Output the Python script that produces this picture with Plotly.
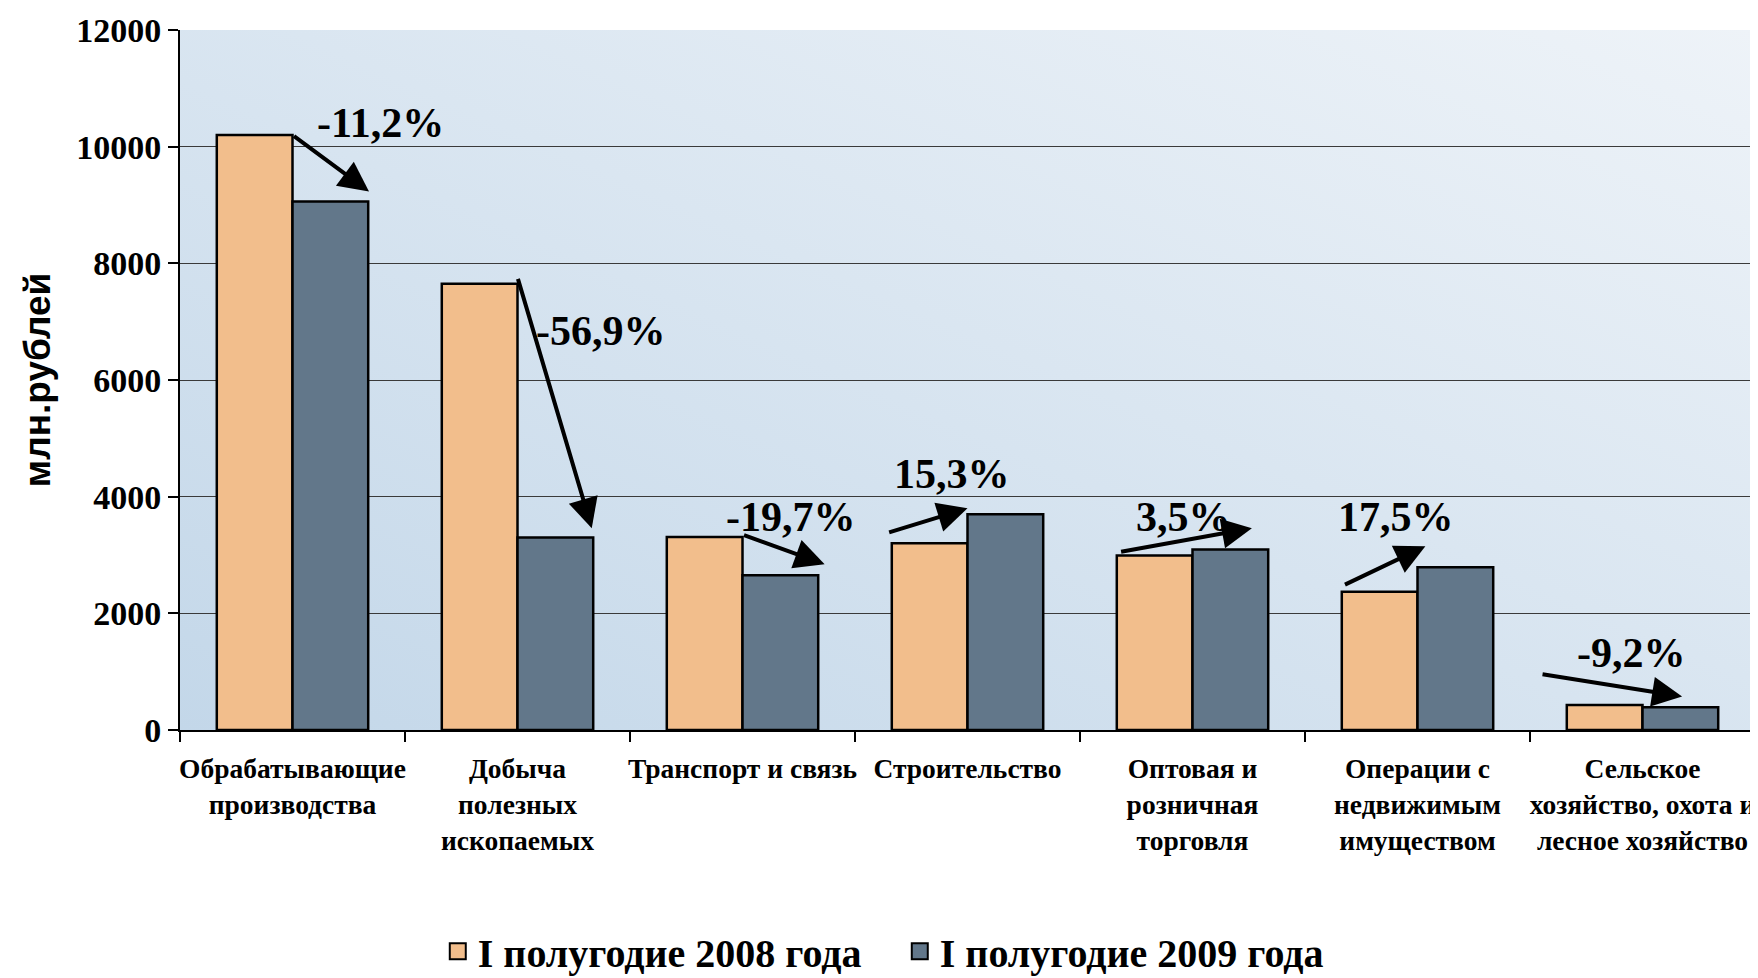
import base64
import plotly.graph_objects as go

categories = [
    "Обрабатывающие<br>производства",
    "Добыча<br>полезных<br>ископаемых",
    "Транспорт и связь",
    "Строительство",
    "Оптовая и<br>розничная<br>торговля",
    "Операции с<br>недвижимым<br>имуществом",
    "Сельское<br>хозяйство, охота и<br>лесное хозяйство",
]
values_2008 = [10200, 7650, 3310, 3200, 2990, 2370, 430]
values_2009 = [9060, 3300, 2655, 3700, 3095, 2790, 390]
change_labels = ["-11,2%", "-56,9%", "-19,7%", "15,3%", "3,5%", "17,5%", "-9,2%"]
series_names = ["I полугодие 2008 года", "I полугодие 2009 года"]
y_ticks = [0, 2000, 4000, 6000, 8000, 10000, 12000]
y_tick_text = ["0", "2000", "4000", "6000", "8000", "10000", "12000"]

# annotation geometry (category-index units on x, value units on y)
arrow_tail_x = [0.0, 1.0, 2.0, 2.645, 3.676, 4.671, 5.549]
arrow_tail_y = [10200, 7760, 3350, 3380, 3050, 2480, 960]
arrow_head_x = [0.34, 1.33, 2.365, 3.0, 4.264, 5.035, 6.176]
arrow_head_y = [9230, 3460, 2840, 3800, 3460, 3150, 576]
label_x = [0.393, 1.373, 2.215, 2.932, 3.96, 4.905, 5.952]
label_y = [10406, 6835, 3648, 4397, 3648, 3648, 1325]

serif = "Liberation Serif, Times New Roman, serif"
sans = "Liberation Sans, Arial, sans-serif"
color_2008 = "#F2BE8C"
color_2009 = "#62778A"

n = len(categories)
fig = go.Figure()
fig.add_trace(go.Bar(
    x=list(range(n)), y=values_2008, name=series_names[0], showlegend=False,
    marker=dict(color=color_2008, line=dict(color="#000000", width=2.5)),
))
fig.add_trace(go.Bar(
    x=list(range(n)), y=values_2009, name=series_names[1], showlegend=False,
    marker=dict(color=color_2009, line=dict(color="#000000", width=2.5)),
))
# legend entries with larger square symbols
for name, col in zip(series_names, [color_2008, color_2009]):
    fig.add_trace(go.Scatter(
        x=[None], y=[None], mode="markers", name=name,
        marker=dict(symbol="square", size=16, color=col, line=dict(color="#000000", width=2)),
    ))

annotations = []
for i in range(n):
    annotations.append(dict(
        x=arrow_head_x[i], y=arrow_head_y[i], ax=arrow_tail_x[i], ay=arrow_tail_y[i],
        xref="x", yref="y", axref="x", ayref="y", text="", showarrow=True,
        arrowhead=2, arrowsize=1.5, arrowwidth=4, arrowcolor="#000000", standoff=0,
    ))
    annotations.append(dict(
        x=label_x[i], y=label_y[i], xref="x", yref="y", text=change_labels[i],
        showarrow=False, font=dict(family=serif, size=42, color="#000000", weight="bold"),
        xanchor="center", yanchor="middle",
    ))

svg = ('<svg xmlns="http://www.w3.org/2000/svg" width="200" height="100" viewBox="0 0 200 100" '
       'preserveAspectRatio="none"><defs><linearGradient id="g" x1="0" y1="1" x2="1" y2="0">'
       '<stop offset="0" stop-color="#C3D7E9"/><stop offset="1" stop-color="#EEF3F8"/>'
       '</linearGradient></defs><rect width="200" height="100" fill="url(#g)"/></svg>')
bg_src = "data:image/svg+xml;base64," + base64.b64encode(svg.encode()).decode()

fig.update_layout(
    width=1758, height=978,
    margin=dict(l=172, r=11, t=22, b=256, autoexpand=False),
    paper_bgcolor="#FFFFFF", plot_bgcolor="#D6E4EF",
    barmode="group", bargap=0.327, bargroupgap=0,
    annotations=annotations,
    images=[dict(source=bg_src, xref="paper", yref="paper", x=0, y=1, sizex=1, sizey=1,
                 sizing="stretch", xanchor="left", yanchor="top", layer="below")],
    legend=dict(orientation="h", x=0.457, xanchor="center", y=-0.316, yanchor="middle",
                font=dict(family=serif, size=40, color="#000000", weight="bold"), itemwidth=30,
                entrywidth=417, entrywidthmode="pixels", bgcolor="rgba(0,0,0,0)"),
    font=dict(family=serif, color="#000000"),
)
fig.update_xaxes(
    type="linear", range=[-0.5, n - 0.5],
    tickmode="array", tickvals=list(range(n)), ticktext=categories,
    ticks="", showgrid=False, showline=True, linecolor="#000000", linewidth=2,
    tickfont=dict(family=serif, size=27.5, color="#000000", weight="bold"),
    ticklabelstandoff=13, zeroline=False,
    minor=dict(tickmode="array", tickvals=[k - 0.5 for k in range(n + 1)],
               ticks="outside", ticklen=10, tickwidth=1.5, tickcolor="#000000", showgrid=False),
)
fig.update_yaxes(
    range=[0, 12000], tickmode="array", tickvals=y_ticks, ticktext=y_tick_text,
    ticks="outside", ticklen=10, tickwidth=1.5, tickcolor="#000000",
    showgrid=True, gridcolor="#3A3A3A", gridwidth=1,
    showline=True, linecolor="#000000", linewidth=2, mirror=True,
    zeroline=False,
    tickfont=dict(family=serif, size=34, color="#000000", weight="bold"),
    title=dict(text="млн.рублей", font=dict(family=sans, size=37, color="#000000", weight="bold"),
               standoff=14),
)
fig.write_html("out.html")
